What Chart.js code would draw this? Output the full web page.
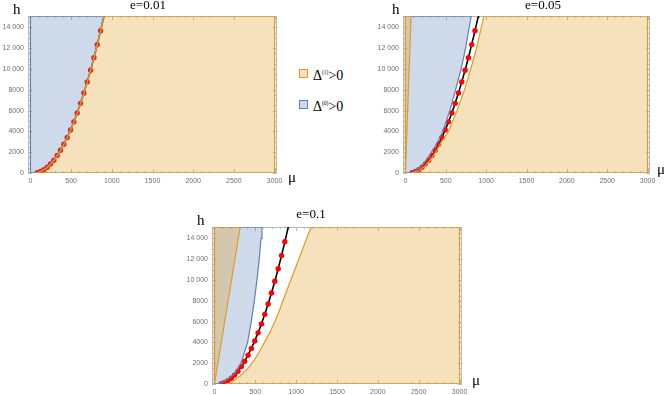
<!DOCTYPE html>
<html>
<head>
<meta charset="utf-8">
<script src="https://cdn.jsdelivr.net/npm/chart.js@4.4.1/dist/chart.umd.min.js"></script>
<style>
    body { margin: 0; background: #fff; width: 664px; height: 395px; overflow: hidden; position: relative; }
    .pane { position: absolute; }
    .txt { position: absolute; white-space: nowrap; color: #000; font-family: "Liberation Serif", serif; z-index: 2; }
    .ttl { font-size: 13px; line-height: 13px; transform: translateX(-50%); }
    .ax { font-size: 15px; line-height: 15px; }
    .sq { position: absolute; width: 7px; height: 7px; border: 1px solid; z-index: 2; }
    .leg { font-size: 14px; line-height: 14px; }
    .leg span { font-size: 5.5px; vertical-align: 6px; }
</style>
</head>
<body>

<canvas id="p1" class="pane" width="290" height="190" style="left:0px;top:6px"></canvas>
<canvas id="p2" class="pane" width="289" height="190" style="left:375px;top:6px"></canvas>
<canvas id="p3" class="pane" width="292" height="190" style="left:184px;top:217px"></canvas>

<div class="txt ttl" style="left:148px;top:-2px">e=0.01</div>
<div class="txt ttl" style="left:543px;top:-2px">e=0.05</div>
<div class="txt ttl" style="left:311px;top:207px">e=0.1</div>

<div class="txt ax" style="left:13px;top:2px">h</div>
<div class="txt ax" style="left:392px;top:2px">h</div>
<div class="txt ax" style="left:197px;top:213px">h</div>
<div class="txt ax" style="left:288px;top:170px">μ</div>
<div class="txt ax" style="left:657px;top:162px">μ</div>
<div class="txt ax" style="left:472px;top:373px">μ</div>

<div class="sq" style="left:299px;top:69px;border-color:#E19C24;background:rgba(225,156,36,0.3)"></div>
<div class="sq" style="left:299px;top:100px;border-color:#5E81B5;background:rgba(94,129,181,0.3)"></div>
<div class="txt leg" style="left:313px;top:65px">Δ<span>(1)</span>&gt;0</div>
<div class="txt leg" style="left:313px;top:96px">Δ<span>(0)</span>&gt;0</div>

<script>
// axis ticks
var xTicks = [0, 500, 1000, 1500, 2000, 2500, 3000];
var yTicks = [0, 2000, 4000, 6000, 8000, 10000, 12000, 14000];
var muMax = 3000;
var hTop = 15100;

// numerical points (same in all three panels)
var dotMu = [83, 124, 165, 206, 247, 288, 329, 370, 411, 452, 493, 534, 575, 616, 657, 698, 739, 780, 821, 862];
var dotH = [35, 140, 310, 550, 860, 1230, 1680, 2190, 2770, 3420, 4140, 4920, 5780, 6700, 7700, 8760, 9880, 11080, 12350, 13680];

// black curve
var curveMu = [50, 100, 150, 200, 250, 300, 350, 400, 450, 500, 550, 600, 650, 700, 750, 800, 850, 900, 906];
var curveH = [0, 70, 240, 510, 880, 1350, 1930, 2610, 3390, 4270, 5250, 6340, 7530, 8810, 10200, 11700, 13280, 14980, 15100];

// e=0.05 boundaries
var e2BlueMu = [45, 100, 200, 300, 400, 463, 550, 621, 690, 745, 790, 815];
var e2BlueH = [0, 90, 650, 1700, 3000, 4000, 6000, 8000, 10000, 12000, 14000, 15100];
var e2OrangeMu = [70, 150, 250, 350, 450, 534, 640, 732, 810, 880, 940, 972];
var e2OrangeH = [0, 150, 700, 1700, 3000, 4000, 6000, 8000, 10000, 12000, 14000, 15100];
var e2WedgeMu = [0, 70];
var e2WedgeH = [0, 15100];

// e=0.1 boundaries
var e3BlueMu = [40, 100, 170, 244, 325, 406, 450, 488, 520, 548, 570, 581];
var e3BlueH = [0, 150, 500, 1000, 2000, 4000, 6000, 8000, 10000, 12000, 14000, 15100];
var e3OrangeMu = [130, 200, 316, 400, 480, 550, 622, 686, 744, 792, 838, 935, 1032, 1128, 1185];
var e3OrangeH = [0, 120, 770, 1400, 2220, 3100, 4150, 5100, 6080, 7000, 8000, 10000, 12000, 14000, 15100];
var e3WedgeMu = [0, 315];
var e3WedgeH = [0, 15100];

var orangeLine = '#E19C24', orangeFill = 'rgba(225,156,36,0.3)';
var blueLine = '#5E81B5', blueFill = 'rgba(94,129,181,0.3)';

function pts(mu, h) {
    var out = [];
    for (var i = 0; i < mu.length; i++) out.push({ x: mu[i], y: h[i] });
    return out;
}

// region right of a boundary, up to mu = 3000
function rightRegion(mu, h) {
    var p = pts(mu, h);
    p.push({ x: muMax, y: hTop }, { x: muMax, y: 0 }, { x: mu[0], y: h[0] });
    return p;
}

// region left of a boundary, from mu = 0
function leftRegion(mu, h) {
    var p = [{ x: 0, y: 0 }].concat(pts(mu, h));
    p.push({ x: 0, y: hTop }, { x: 0, y: 0 });
    return p;
}

function region(data, line, fill, order) {
    return { data: data, showLine: true, fill: 'shape', borderColor: line, backgroundColor: fill,
        borderWidth: 1.2, pointRadius: 0, order: order };
}

function fmt(v) {
    return v >= 10000 ? String(v).replace(/(\d{3})$/, ' $1') : String(v);
}

var framePlugin = {
    id: 'frame',
    beforeDatasetsDraw: function (chart) {
        var ctx = chart.ctx, a = chart.chartArea;
        var xs = chart.scales.x, ys = chart.scales.y;
        ctx.save();
        ctx.strokeStyle = '#b9b9b9';
        ctx.lineWidth = 1;
        ctx.strokeRect(a.left + 0.5, a.top + 0.5, a.right - a.left - 1, a.bottom - a.top - 1);
        ctx.beginPath();
        for (var v = 0; v <= muMax; v += 100) {
            var len = v % 500 === 0 ? 4 : 2;
            var px = Math.round(xs.getPixelForValue(v)) + 0.5;
            ctx.moveTo(px, a.bottom); ctx.lineTo(px, a.bottom - len);
            ctx.moveTo(px, a.top); ctx.lineTo(px, a.top + len);
        }
        for (var h = 0; h <= 15000; h += 500) {
            var l2 = h % 2000 === 0 ? 4 : 2;
            var py = Math.round(ys.getPixelForValue(h)) + 0.5;
            ctx.moveTo(a.left, py); ctx.lineTo(a.left + l2, py);
            ctx.moveTo(a.right, py); ctx.lineTo(a.right - l2, py);
        }
        ctx.stroke();
        ctx.restore();
    }
};

function criarPainel(id, regions) {
    var datasets = [
        { data: pts(curveMu, curveH), showLine: true, borderColor: '#000', borderWidth: 1.6, pointRadius: 0, order: 10 },
        { data: pts(dotMu, dotH), showLine: false, pointRadius: 2.7, pointBorderWidth: 0,
          pointBackgroundColor: '#ff0000', order: 9 }
    ].concat(regions);

    return new Chart(document.getElementById(id), {
        type: 'scatter',
        data: { datasets: datasets },
        plugins: [framePlugin],
        options: {
            responsive: false,
            animation: false,
            layout: { padding: { top: 10, right: id === 'p1' ? 13 : 14, left: 0, bottom: 0 } },
            plugins: { legend: { display: false }, tooltip: { enabled: false } },
            scales: {
                x: {
                    type: 'linear', min: -30, max: 3030,
                    afterBuildTicks: function (s) { s.ticks = xTicks.map(function (v) { return { value: v }; }); },
                    afterFit: function (s) { s.height = 23; },
                    grid: { display: false, drawTicks: false },
                    border: { display: false },
                    ticks: { padding: 4, color: '#707070', font: { family: 'Liberation Sans', size: 7 },
                             maxRotation: 0, callback: fmt }
                },
                y: {
                    type: 'linear', min: 0, max: hTop,
                    afterBuildTicks: function (s) { s.ticks = yTicks.map(function (v) { return { value: v }; }); },
                    afterFit: function (s) { s.width = 28; },
                    grid: { display: false, drawTicks: false },
                    border: { display: false },
                    ticks: { padding: 4, color: '#707070', font: { family: 'Liberation Sans', size: 7 }, callback: fmt }
                }
            }
        }
    });
}

criarPainel('p1', [
    region(leftRegion(curveMu, curveH), blueLine, blueFill, 5),
    region(rightRegion(curveMu, curveH), orangeLine, orangeFill, 3)
]);

criarPainel('p2', [
    region(leftRegion(e2BlueMu, e2BlueH), blueLine, blueFill, 5),
    region(rightRegion(e2OrangeMu, e2OrangeH), orangeLine, orangeFill, 3),
    region(leftRegion(e2WedgeMu, e2WedgeH), orangeLine, orangeFill, 2)
]);

criarPainel('p3', [
    region(leftRegion(e3BlueMu, e3BlueH), blueLine, blueFill, 5),
    region(rightRegion(e3OrangeMu, e3OrangeH), orangeLine, orangeFill, 3),
    region(leftRegion(e3WedgeMu, e3WedgeH), orangeLine, orangeFill, 2)
]);
</script>
</body>
</html>
